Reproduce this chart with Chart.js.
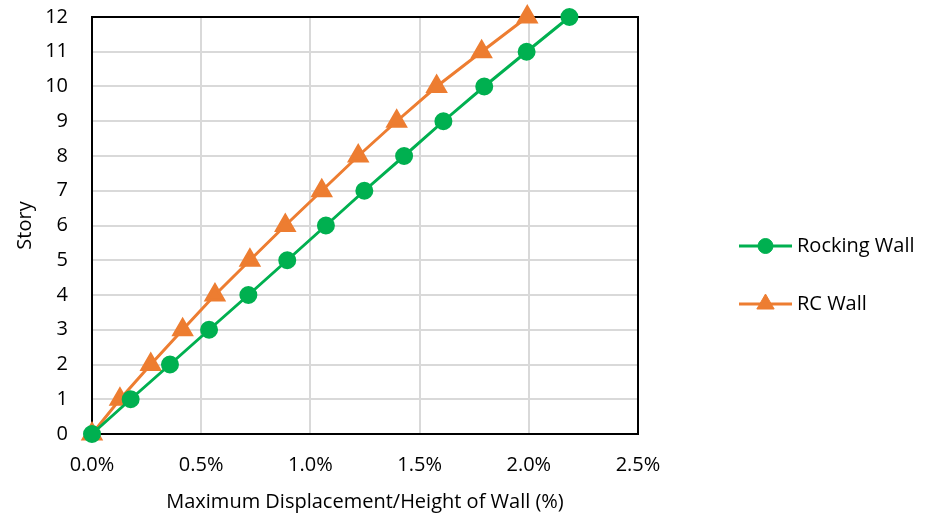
<!DOCTYPE html>
<html>
<head>
<meta charset="utf-8">
<script src="https://cdn.jsdelivr.net/npm/chart.js@4/dist/chart.umd.min.js"></script>
<style>
  html, body { margin: 0; padding: 0; background: #fff; }
  #wrap { width: 931px; height: 518px; }
</style>
</head>
<body>
<div id="wrap"><canvas id="c" width="931" height="518"></canvas></div>
<script>
// Story levels (0 = base, 12 = roof)
const stories = [0, 1, 2, 3, 4, 5, 6, 7, 8, 9, 10, 11, 12];
// Maximum displacement / wall height, in percent
const rockingWall = [0, 0.177, 0.357, 0.536, 0.716, 0.894, 1.071, 1.247, 1.429, 1.609, 1.796, 1.990, 2.186];
const rcWall      = [0, 0.128, 0.269, 0.415, 0.563, 0.723, 0.885, 1.052, 1.219, 1.395, 1.578, 1.784, 1.993];
const seriesNames = ['Rocking Wall', 'RC Wall'];
const xTickValues = [0, 0.5, 1.0, 1.5, 2.0, 2.5];

const FONT = "'Open Sans', Lato, 'Liberation Sans', sans-serif";
const FONT_SIZE = 20;
const GREEN = '#00B050';
const ORANGE = '#ED7D31';

function toPoints(xs) {
  return xs.map((x, i) => ({ x: x, y: stories[i] }));
}

// Black frame around the plotting area
const frame = {
  id: 'frame',
  beforeDatasetsDraw(chart) {
    const a = chart.chartArea, ctx = chart.ctx;
    ctx.save();
    ctx.strokeStyle = '#000';
    ctx.lineWidth = 2;
    ctx.strokeRect(a.left, a.top, a.right - a.left, a.bottom - a.top);
    ctx.restore();
  }
};

// Legend on the right: short line with the series marker, then the name
const sideLegend = {
  id: 'sideLegend',
  afterDraw(chart) {
    const ctx = chart.ctx;
    const x0 = 739, x1 = 792, tx = 797;
    const ys = [246, 304];
    chart.data.datasets.forEach((ds, i) => {
      const y = ys[i];
      ctx.save();
      ctx.strokeStyle = ds.borderColor;
      ctx.lineWidth = ds.borderWidth;
      ctx.beginPath();
      ctx.moveTo(x0, y);
      ctx.lineTo(x1, y);
      ctx.stroke();
      ctx.fillStyle = ds.pointBackgroundColor;
      ctx.strokeStyle = ds.pointBorderColor;
      ctx.lineWidth = 1;
      Chart.helpers.drawPoint(ctx, {
        pointStyle: ds.pointStyle,
        radius: ds.pointRadius,
        rotation: 0,
        borderWidth: 1
      }, (x0 + x1) / 2, y);
      ctx.fillStyle = '#000';
      ctx.font = FONT_SIZE + 'px ' + FONT;
      ctx.textAlign = 'left';
      ctx.textBaseline = 'middle';
      ctx.fillText(ds.label, tx, y);
      ctx.restore();
    });
  }
};

new Chart(document.getElementById('c'), {
  type: 'scatter',
  data: {
    datasets: [
      {
        label: seriesNames[0],
        data: toPoints(rockingWall),
        showLine: true,
        borderColor: GREEN,
        backgroundColor: GREEN,
        pointBackgroundColor: GREEN,
        pointBorderColor: GREEN,
        borderWidth: 3,
        pointStyle: 'circle',
        pointRadius: 7.5,
        pointHoverRadius: 7.5,
        clip: false
      },
      {
        label: seriesNames[1],
        data: toPoints(rcWall),
        showLine: true,
        borderColor: ORANGE,
        backgroundColor: ORANGE,
        pointBackgroundColor: ORANGE,
        pointBorderColor: ORANGE,
        borderWidth: 3,
        pointStyle: 'triangle',
        pointRadius: 10,
        pointHoverRadius: 10,
        clip: false
      }
    ]
  },
  options: {
    responsive: false,
    animation: false,
    layout: { padding: { left: 0, right: 293, top: 17, bottom: 0 } },
    plugins: {
      legend: { display: false },
      tooltip: { enabled: false }
    },
    scales: {
      x: {
        type: 'linear',
        min: 0,
        max: 2.5,
        afterFit(s) { s.height = 84; s.paddingLeft = 0; s.paddingRight = 0; },
        afterBuildTicks(s) { s.ticks = xTickValues.map(v => ({ value: v })); },
        grid: { color: '#D9D9D9', lineWidth: 2, drawTicks: false },
        border: { display: false },
        ticks: {
          padding: 19,
          color: '#000',
          font: { family: FONT, size: FONT_SIZE },
          callback: v => Number(v).toFixed(1) + '%'
        },
        title: {
          display: true,
          text: 'Maximum Displacement/Height of Wall (%)',
          color: '#000',
          font: { family: FONT, size: FONT_SIZE },
          padding: { top: 0, bottom: 4 }
        }
      },
      y: {
        type: 'linear',
        min: 0,
        max: 12,
        afterFit(s) { s.width = 92; s.paddingTop = 0; s.paddingBottom = 0; },
        grid: { color: '#D9D9D9', lineWidth: 2, drawTicks: false },
        border: { display: false },
        ticks: {
          stepSize: 1,
          padding: 24,
          color: '#000',
          font: { family: FONT, size: FONT_SIZE }
        },
        title: {
          display: true,
          text: 'Story',
          color: '#000',
          font: { family: FONT, size: FONT_SIZE },
          padding: { top: 13, bottom: 0 }
        }
      }
    }
  },
  plugins: [frame, sideLegend]
});
</script>
</body>
</html>
